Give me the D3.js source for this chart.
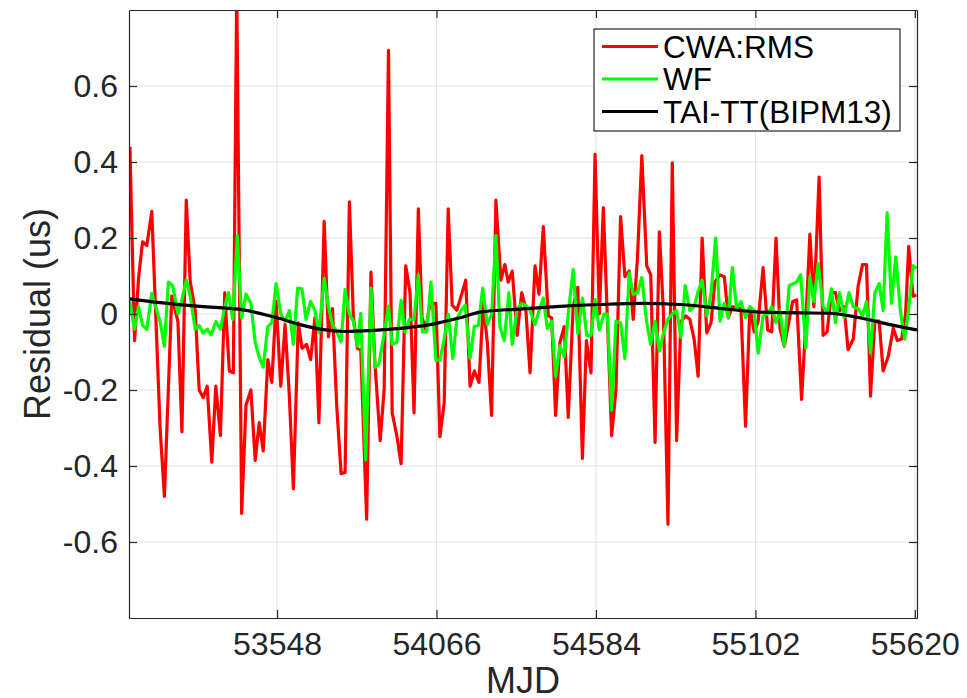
<!DOCTYPE html>
<html>
<head>
<meta charset="utf-8">
<script src="https://cdn.jsdelivr.net/npm/d3@7"></script>
<style>
  html, body { margin: 0; padding: 0; background: #ffffff; }
  svg { display: block; font-family: "Liberation Sans", Arial, Helvetica, sans-serif; }
</style>
</head>
<body>
<svg id="chart" width="967" height="698"></svg>
<script>
// ---- data: residuals (us) against MJD ----
const cwaMjd = [53070,53085,53098,53111,53125,53141,53168,53182,53206,53226,53239,53253,53266,53282,53295,53308,53321,53336,53349,53364,53378,
  53393,53406,53417,53433,53447,53463,53477,53490,53503,53518,53531,53545,53560,53574,53588,53601,53617,53629,53644,53657,53671,53684,
  53701,53715,53728,53742,53756,53769,53783,53796,53809,53820,53839,53853,53866,53883,53896,53910,53922,53937,53951,53966,53980,53993,
  54007,54019,54031,54045,54064,54077,54091,54104,54117,54132,54146,54161,54175,54189,54204,54218,54231,54245,54259,54275,54288,
  54299,54312,54328,54343,54356,54370,54386,54399,54413,54429,54440,54453,54467,54481,54494,54510,54525,54540,54553,54568,54581,54595,54608,
  54635,54649,54664,54678,54692,54705,54719,54733,54749,54762,54776,54790,54803,54818,54832,54846,54860,54876,54889,54903,54916,
  54929,54944,54958,54970,54987,55001,55014,55027,55041,55055,55070,55084,55098,55111,55127,55142,55155,55169,55182,55196,55209,55223,
  55236,55252,55266,55279,55292,55309,55322,55335,55349,55362,55376,55390,55403,55420,55436,55450,55463,55476,55490,55504,55517,55533,55550,55563,55577,55590,55600,55614,55625];
const cwaRes = [0.44,-0.07,0.094,0.19,0.18,0.27,-0.30,-0.48,0.047,-0.02,-0.31,0.30,0.084,0.01,-0.20,-0.22,-0.19,-0.39,-0.19,-0.32,0.056,
  -0.15,-0.155,0.86,-0.525,-0.24,-0.20,-0.385,-0.286,-0.36,-0.12,-0.18,0.033,-0.19,-0.028,-0.216,-0.46,-0.023,-0.09,-0.08,-0.12,-0.01,-0.286,
  0.244,-0.06,0.014,-0.244,-0.42,-0.417,0.295,-0.01,-0.09,-0.094,-0.54,0.11,-0.13,-0.333,-0.197,0.694,-0.26,-0.32,-0.394,0.127,0.056,-0.26,
  0.277,-0.01,-0.04,0.028,0.028,-0.323,-0.234,0.277,0.023,0.01,0.047,0.089,-0.19,-0.15,-0.18,0.028,-0.075,-0.267,0.30,0.089,0.13,
  0.084,0.113,-0.056,0.056,0.014,-0.155,0.127,0.052,0.23,-0.005,-0.01,-0.267,-0.075,-0.033,-0.272,0.019,0.07,-0.38,-0.07,-0.155,0.42,0.0,0.28,
  -0.32,-0.2,0.256,0.098,0.113,-0.014,0.15,0.417,0.127,0.103,-0.338,0.216,0.009,-0.553,0.398,-0.333,-0.02,-0.005,-0.014,-0.066,-0.164,
  0.20,-0.05,-0.023,0.084,0.103,0.098,-0.01,0.019,0.019,0.014,-0.295,0.019,-0.047,-0.019,0.122,-0.042,-0.047,0.20,-0.038,-0.085,-0.028,0.033,
  0.037,-0.225,-0.019,0.21,0.019,0.36,-0.056,-0.047,0.056,0.056,0.009,0.019,-0.094,-0.066,0.075,0.13,0.13,-0.216,-0.019,-0.019,-0.15,-0.113,-0.038,-0.07,-0.066,0.0,0.178,0.047,0.05];

const wfMjd = [53070,53085,53098,53111,53125,53141,53157,53168,53182,53195,53209,53226,53239,53253,53266,53282,53295,53308,53321,53334,53349,53364,53376,
  53390,53404,53419,53433,53447,53463,53477,53490,53503,53518,53531,53545,53560,53574,53588,53601,53615,53629,53642,53657,53671,53684,
  53701,53715,53728,53742,53756,53769,53783,53796,53809,53820,53836,53853,53866,53879,53896,53910,53922,53937,53951,53964,53978,53993,
  54007,54020,54034,54048,54064,54077,54091,54104,54119,54132,54146,54159,54175,54189,54202,54216,54231,54245,54259,54272,54286,54301,
  54312,54328,54343,54356,54370,54386,54399,54413,54426,54440,54453,54467,54481,54494,54510,54525,54540,54554,54568,54581,54595,54610,
  54621,54635,54649,54664,54678,54692,54705,54719,54733,54749,54762,54776,54790,54803,54818,54832,54846,54860,54874,54889,54903,54916,
  54929,54944,54958,54973,54987,55001,55014,55027,55041,55055,55070,55084,55098,55111,55127,55142,55155,55169,55182,55196,55212,55227,
  55236,55249,55266,55279,55292,55306,55322,55335,55349,55362,55376,55390,55406,55420,55436,55450,55463,55476,55490,55504,55517,55530,55544,55558,55573,55587,55600,55614,55625];
const wfRes = [0.033,-0.04,0.02,-0.03,-0.04,0.054,0.01,-0.02,-0.085,0.084,0.075,0.0,0.037,0.089,0.047,-0.04,-0.03,-0.05,-0.04,-0.055,-0.02,-0.04,0.01,
  0.056,-0.014,0.206,-0.01,0.052,0.028,-0.075,-0.113,-0.14,-0.033,-0.023,0.08,0.0,-0.019,0.009,-0.08,0.068,0.066,-0.014,0.033,0.009,-0.05,
  0.094,0.019,-0.028,-0.047,-0.073,0.064,0.0,-0.019,-0.085,0.002,-0.384,0.068,-0.14,-0.131,-0.052,0.021,-0.08,-0.075,0.036,-0.047,-0.014,-0.014,
  0.103,-0.047,-0.047,0.084,-0.122,-0.122,-0.066,0.0,-0.117,-0.014,0.009,0.023,-0.117,-0.033,-0.03,0.068,-0.028,0.0,0.206,-0.033,-0.07,0.056,
  -0.08,0.014,0.028,0.023,0.009,-0.028,0.009,0.042,-0.038,-0.019,-0.164,-0.084,-0.113,0.0,0.117,-0.052,0.042,-0.056,-0.056,0.038,-0.042,0.0,
  0.0,-0.253,-0.019,-0.023,-0.117,0.108,0.052,0.056,0.096,-0.023,-0.08,-0.019,-0.098,-0.052,-0.014,0.0,0.009,-0.061,0.075,0.009,0.019,0.06,
  0.089,-0.005,0.056,0.20,-0.019,0.028,-0.009,0.122,0.014,0.033,-0.009,0.019,0.009,-0.103,-0.005,0.0,0.019,-0.023,0.009,-0.084,0.075,0.08,
  0.084,0.103,-0.09,0.098,0.033,0.133,0.019,0.005,0.066,-0.023,0.056,-0.009,0.056,0.019,0.014,-0.005,0.033,-0.103,0.056,0.08,0.009,0.267,0.028,0.15,0.009,-0.066,0.014,0.127,0.12];

const taiMjd = [53070,53168,53298,53428,53558,53623,53688,53769,53850,53947,54045,54142,54207,54337,54467,54597,54727,54857,54987,55117,55247,55344,55441,55539,55627];
const taiRes = [0.040,0.030,0.020,0.012,-0.012,-0.028,-0.040,-0.046,-0.044,-0.038,-0.028,-0.010,0.005,0.013,0.020,0.025,0.028,0.025,0.015,0.005,0.003,0.002,-0.010,-0.028,-0.042];

const xTicks = [53548, 54066, 54584, 55102, 55620];
const yTicks = [-0.6, -0.4, -0.2, 0, 0.2, 0.4, 0.6];
const seriesNames = ["CWA:RMS", "WF", "TAI-TT(BIPM13)"];
const seriesColors = ["#ff0000", "#00ff00", "#000000"];

// ---- layout ----
const svg = d3.select("#chart");
const plot = { left: 129, right: 917, top: 10, bottom: 618 };
const axisColor = "#262626";

const x = d3.scaleLinear().domain([53067, 55627]).range([plot.left, plot.right]);
const y = d3.scaleLinear().domain([-0.8, 0.8]).range([plot.bottom, plot.top]);

svg.append("defs").append("clipPath").attr("id", "plot-clip")
  .append("rect")
  .attr("x", plot.left).attr("y", plot.top)
  .attr("width", plot.right - plot.left).attr("height", plot.bottom - plot.top);

// plot background
svg.append("rect")
  .attr("x", plot.left).attr("y", plot.top)
  .attr("width", plot.right - plot.left).attr("height", plot.bottom - plot.top)
  .attr("fill", "#ffffff");

// grid
const grid = svg.append("g").attr("stroke", "#e3e3e3").attr("stroke-width", 1);
grid.selectAll("line.gx").data(xTicks).join("line")
  .attr("x1", d => x(d)).attr("x2", d => x(d))
  .attr("y1", plot.top).attr("y2", plot.bottom);
grid.selectAll("line.gy").data(yTicks).join("line")
  .attr("x1", plot.left).attr("x2", plot.right)
  .attr("y1", d => y(d)).attr("y2", d => y(d));

// series lines
const line = d3.line().x(d => x(d[0])).y(d => y(d[1]));
const smooth = d3.line().x(d => x(d[0])).y(d => y(d[1])).curve(d3.curveMonotoneX);
const lines = svg.append("g").attr("clip-path", "url(#plot-clip)")
  .attr("fill", "none").attr("stroke-linejoin", "round");

lines.append("path").datum(d3.zip(cwaMjd, cwaRes))
  .attr("d", line).attr("stroke", seriesColors[0]).attr("stroke-width", 3.2);
lines.append("path").datum(d3.zip(wfMjd, wfRes))
  .attr("d", line).attr("stroke", seriesColors[1]).attr("stroke-width", 3.2);
lines.append("path").datum(d3.zip(taiMjd, taiRes))
  .attr("d", smooth).attr("stroke", seriesColors[2]).attr("stroke-width", 3.2);

// axes (ticks pointing inward on all four sides)
const fmtY = d => (d === 0 ? "0" : String(d));
function styleAxis(g) {
  g.select(".domain").attr("stroke", axisColor).attr("stroke-width", 1.2);
  g.selectAll(".tick line").attr("stroke", axisColor).attr("stroke-width", 1.2);
  g.selectAll(".tick text").attr("fill", axisColor).attr("font-size", 32)
    .attr("font-family", "'Liberation Sans', Arial, Helvetica, sans-serif");
}
svg.append("g").attr("transform", `translate(0,${plot.bottom})`)
  .call(d3.axisBottom(x).tickValues(xTicks).tickSizeInner(-8).tickSizeOuter(0).tickPadding(14).tickFormat(d3.format("d")))
  .call(styleAxis);
svg.append("g").attr("transform", `translate(0,${plot.top})`)
  .call(d3.axisTop(x).tickValues(xTicks).tickSizeInner(-8).tickSizeOuter(0).tickFormat(""))
  .call(styleAxis);
svg.append("g").attr("transform", `translate(${plot.left},0)`)
  .call(d3.axisLeft(y).tickValues(yTicks).tickSizeInner(-8).tickSizeOuter(0).tickPadding(11).tickFormat(fmtY))
  .call(styleAxis);
svg.append("g").attr("transform", `translate(${plot.right},0)`)
  .call(d3.axisRight(y).tickValues(yTicks).tickSizeInner(-8).tickSizeOuter(0).tickFormat(""))
  .call(styleAxis);

// axis titles
svg.append("text")
  .attr("x", (plot.left + plot.right) / 2).attr("y", 693)
  .attr("text-anchor", "middle").attr("font-size", 36).attr("fill", axisColor)
  .text("MJD");
svg.append("text")
  .attr("transform", `translate(50,${(plot.top + plot.bottom) / 2}) rotate(-90)`)
  .attr("text-anchor", "middle").attr("font-size", 36).attr("fill", axisColor)
  .text("Residual (us)");

// legend
const legend = svg.append("g");
legend.append("rect")
  .attr("x", 594).attr("y", 29).attr("width", 306).attr("height", 102)
  .attr("fill", "#ffffff").attr("stroke", axisColor).attr("stroke-width", 1.2);
seriesNames.forEach((name, i) => {
  const ry = 46.5 + i * 32.5;
  legend.append("line")
    .attr("x1", 602).attr("x2", 658).attr("y1", ry).attr("y2", ry)
    .attr("stroke", seriesColors[i]).attr("stroke-width", 3.2);
  legend.append("text")
    .attr("x", 663).attr("y", ry).attr("dy", "0.36em")
    .attr("font-size", 31.5).attr("fill", "#000000")
    .text(name);
});
</script>
</body>
</html>
